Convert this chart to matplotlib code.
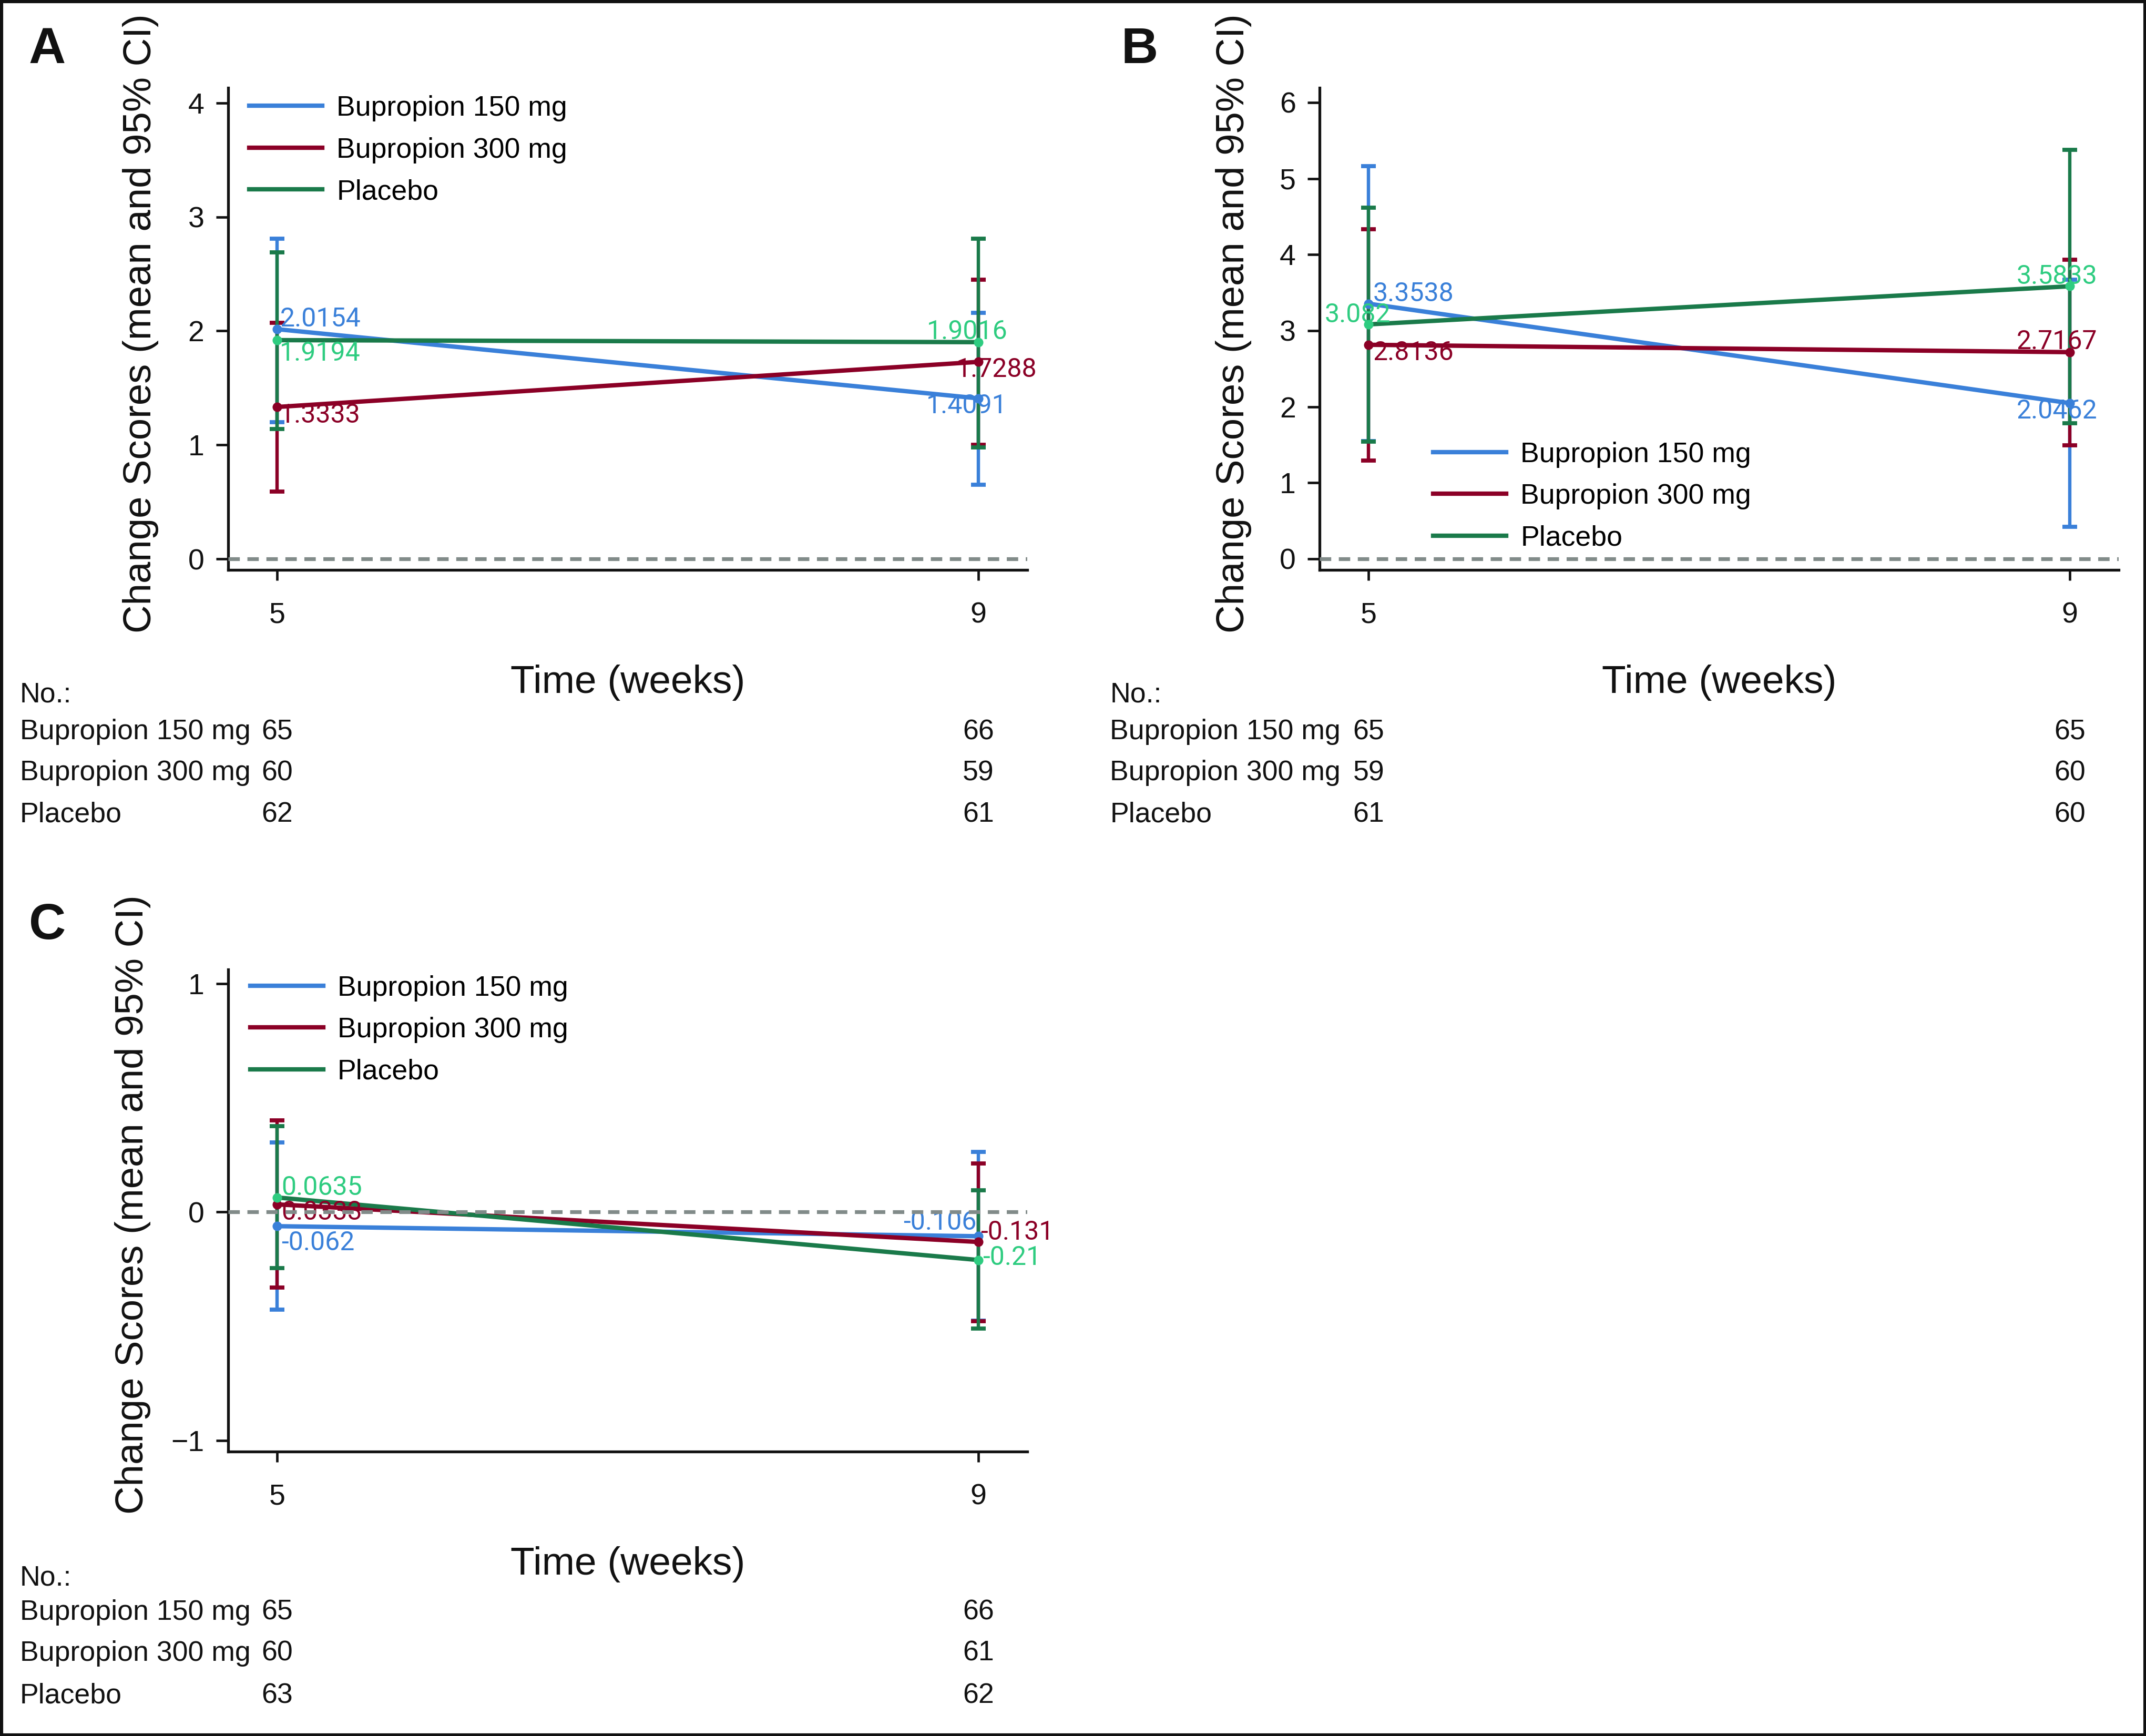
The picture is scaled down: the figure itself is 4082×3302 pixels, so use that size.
import numpy as np
import matplotlib
matplotlib.use('Agg')
import matplotlib.pyplot as plt
from matplotlib import font_manager
from matplotlib.patches import Rectangle
from matplotlib.transforms import blended_transform_factory

weeks = [5, 9]
groups = ['Bupropion 150 mg', 'Bupropion 300 mg', 'Placebo']

# rows: 150 mg, 300 mg, placebo ; columns: week 5, week 9
a_mean = [[2.0154, 1.4091], [1.3333, 1.7288], [1.9194, 1.9016]]
a_lo = [[1.20, 0.65], [0.59, 1.00], [1.14, 0.98]]
a_hi = [[2.81, 2.16], [2.07, 2.45], [2.69, 2.81]]
a_n = [[65, 66], [60, 59], [62, 61]]

b_mean = [[3.3538, 2.0462], [2.8136, 2.7167], [3.082, 3.5833]]
b_lo = [[1.55, 0.42], [1.29, 1.49], [1.54, 1.78]]
b_hi = [[5.16, 3.67], [4.33, 3.93], [4.62, 5.38]]
b_n = [[65, 65], [59, 60], [61, 60]]

c_mean = [[-0.062, -0.106], [0.0333, -0.131], [0.0635, -0.21]]
c_lo = [[-0.427, -0.476], [-0.33, -0.478], [-0.245, -0.51]]
c_hi = [[0.305, 0.264], [0.40, 0.213], [0.376, 0.095]]
c_n = [[65, 66], [60, 61], [63, 62]]

line_colors = ['#3A80D9', '#8B0026', '#1A7A4A']
dot_colors = ['#3A80D9', '#8B0026', '#2ECC80']

names = {f.name for f in font_manager.fontManager.ttflist}
if 'Liberation Sans Narrow' in names:
    narrow, nscale = 'Liberation Sans Narrow', 1.0
else:
    narrow, nscale = 'Liberation Sans', 0.83
plt.rcParams['font.family'] = ['Liberation Sans', 'DejaVu Sans']

W, H = 1568.0, 1268.0   # layout measured on the shrunk reference
PT = 2.6033 * 72 / 200  # one reference pixel in points
FS = 19.3               # legend / table text

fig = plt.figure(figsize=(20.41, 16.51), dpi=200)

# label offsets (dx, dy in reference px, ha) per group per week
offs_a = [[(2, 8.5, 'left'), (-8.5, -4.5, 'center')],
          [(2, -5, 'left'), (13.5, -4.7, 'center')],
          [(2, -8.5, 'left'), (-8, 8.6, 'center')]]
offs_b = [[(3, 8.4, 'left'), (-9.4, -4.7, 'center')],
          [(3, -4.6, 'left'), (-9.4, 8.8, 'center')],
          [(-8, 8, 'center'), (-9.4, 8.4, 'center')]]
offs_c = [[(3, -11, 'left'), (-1.5, 11.4, 'right')],
          [(3, -4.7, 'left'), (1.5, 8, 'left')],
          [(3, 8.3, 'left'), (3, 3, 'left')]]

panels = [
    dict(letter='A', lx=21, ly=46, rect=(166.6, 64.3, 584, 352.1), mean=a_mean, lo=a_lo, hi=a_hi, n=a_n,
         ylim=(-0.097, 4.13), yticks=[0, 1, 2, 3, 4], leg=(0.0265, 0.985), ylab_x=-0.0966,
         xlab_y=-0.255, tx=14.6, rows=[513, 540, 570, 600.5], offs=offs_a),
    dict(letter='B', lx=819, ly=46, rect=(964.2, 64.3, 584, 352.1), mean=b_mean, lo=b_lo, hi=b_hi, n=b_n,
         ylim=(-0.149, 6.19), yticks=[0, 1, 2, 3, 4, 5, 6], leg=(0.142, 0.267), ylab_x=-0.0945,
         xlab_y=-0.255, tx=811, rows=[513, 540, 570, 600.5], offs=offs_b),
    dict(letter='C', lx=21, ly=686, rect=(166.7, 708, 584, 352.2), mean=c_mean, lo=c_lo, hi=c_hi, n=c_n,
         ylim=(-1.048, 1.062), yticks=[-1, 0, 1], leg=(0.0274, 0.988), ylab_x=-0.1067,
         xlab_y=-0.2557, tx=14.6, rows=[1158, 1183, 1213, 1244], offs=offs_c),
]

for p in panels:
    x0, y0, w, h = p['rect']
    ax = fig.add_axes([x0 / W, 1 - (y0 + h) / H, w / W, h / H])
    ax.set_xlim(4.72, 9.28)
    ax.set_ylim(*p['ylim'])
    ax.axhline(0, color='#818B89', lw=2.6, dashes=(3.0, 2.0), zorder=6)

    handles = []
    for gi in range(3):
        m = np.array(p['mean'][gi])
        yerr = [m - np.array(p['lo'][gi]), np.array(p['hi'][gi]) - m]
        ax.errorbar(weeks, m, yerr=yerr, fmt='none', ecolor=line_colors[gi],
                    elinewidth=2.3, capsize=5.0, capthick=2.8, zorder=2 + gi * 0.1)
    for gi in range(3):
        m = p['mean'][gi]
        ln, = ax.plot(weeks, m, color=line_colors[gi], lw=3.0, zorder=4, label=groups[gi])
        ax.plot(weeks, m, 'o', color=dot_colors[gi], ms=5.5, zorder=4.5)
        handles.append(ln)
        for ti in range(2):
            dx, dy, ha = p['offs'][gi][ti]
            ax.annotate(f'{m[ti]:g}', (weeks[ti], m[ti]), xytext=(dx * PT, (dy - 6.5) * PT),
                        textcoords='offset points', ha=ha, va='baseline', color=dot_colors[gi],
                        fontsize=18, family=['Roboto', 'DejaVu Sans'], zorder=5)

    ax.legend(handles=handles, loc='upper left', bbox_to_anchor=p['leg'], frameon=False,
              borderpad=0, borderaxespad=0, handlelength=2.6, handletextpad=0.5,
              labelspacing=0.55, fontsize=FS)

    for s in ['top', 'right']:
        ax.spines[s].set_visible(False)
    for s in ['left', 'bottom']:
        ax.spines[s].set_linewidth(1.9)
        ax.spines[s].set_color('#111111')
    ax.set_xticks(weeks)
    ax.set_yticks(p['yticks'])
    ax.tick_params(axis='y', length=8.3, width=1.7, pad=8.0, labelsize=20, colors='#111111')
    ax.tick_params(axis='x', length=7.2, width=1.7, pad=14.5, labelsize=20, colors='#111111')

    ax.set_ylabel('Change Scores (mean and 95% CI)', family=narrow, fontsize=32.3 * nscale, color='#111111')
    ax.yaxis.set_label_coords(p['ylab_x'], 0.512)
    ax.yaxis.label.set_va('baseline')
    ax.set_xlabel('Time (weeks)', family=narrow, fontsize=32.5 * nscale, color='#111111')
    ax.xaxis.set_label_coords(0.5, p['xlab_y'])
    ax.xaxis.label.set_va('baseline')

    fig.text(p['lx'] / W, 1 - p['ly'] / H, p['letter'], fontsize=35, fontweight='bold',
             va='baseline', ha='left', color='#111111')

    trans = blended_transform_factory(ax.transData, fig.transFigure)
    fig.text(p['tx'] / W, 1 - p['rows'][0] / H, 'No.:', fontsize=FS, va='baseline', color='#111111')
    for gi in range(3):
        yy = 1 - p['rows'][gi + 1] / H
        fig.text(p['tx'] / W, yy, groups[gi], fontsize=FS, va='baseline', color='#111111')
        for ti in range(2):
            ax.text(weeks[ti], yy, str(p['n'][gi][ti]), transform=trans, ha='center',
                    va='baseline', fontsize=FS, color='#111111', clip_on=False)

fig.patches.append(Rectangle((0, 0), 1, 1, transform=fig.transFigure, fill=False,
                             edgecolor='#111111', lw=4, zorder=10))

fig.savefig('out.png', dpi=200)
